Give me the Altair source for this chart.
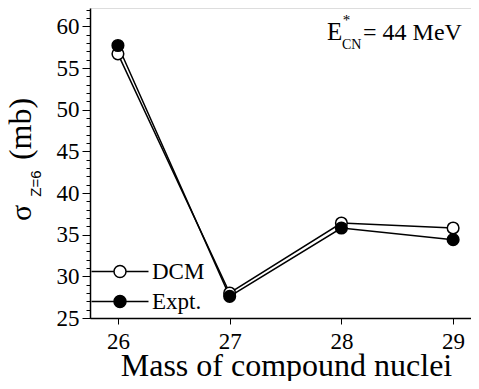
import altair as alt
import pandas as pd

mass = [26, 27, 28, 29]
dcm = [56.7, 28.0, 36.4, 35.8]
expt = [57.7, 27.6, 35.8, 34.4]
series_names = ["DCM", "Expt."]
x_ticks = [26, 27, 28, 29]
y_ticks = [25, 30, 35, 40, 45, 50, 55, 60]
y_minor = list(range(25, 63))

rows = []
for m, v in zip(mass, dcm):
    rows.append({"mass": m, "sigma": v, "series": "DCM"})
for m, v in zip(mass, expt):
    rows.append({"mass": m, "sigma": v, "series": "Expt."})
df = pd.DataFrame(rows)

FONT = "Liberation Serif"
xscale = alt.Scale(domain=[25.75, 29.16], nice=False, zero=False)
yscale = alt.Scale(domain=[25, 62.2], nice=False, zero=False)

legend_path = ("M-2.375,0H-0.5M0.5,0H2.375"
               "M-0.5,0A0.5,0.5 0 1,1 0.5,0A0.5,0.5 0 1,1 -0.5,0Z")

x_enc = alt.X("mass:Q", scale=xscale,
              axis=alt.Axis(values=x_ticks, format="d", title="Mass of compound nuclei",
                            titleFontSize=32, titleFont=FONT, titleFontWeight="normal",
                            titleColor="black", titleY=57, titleX=196,
                            titleBaseline="alphabetic",
                            labelFontSize=23, labelFont=FONT, labelColor="black",
                            tickSize=6, labelPadding=6, grid=False,
                            domainColor="black", tickColor="black", domainWidth=1.5,
                            labelFlush=False))
y_enc = alt.Y("sigma:Q", scale=yscale,
              axis=alt.Axis(values=y_ticks, title=None, orient="left",
                            labelFontSize=23, labelFont=FONT, labelColor="black",
                            tickSize=8, labelPadding=3, grid=False,
                            domainColor="black", tickColor="black", domainWidth=1.5,
                            labelFlush=False))
y_minor_enc = alt.Y("sigma:Q", scale=yscale,
                    axis=alt.Axis(values=y_minor, title=None, orient="left",
                                  labels=False, tickSize=4, grid=False, domain=False,
                                  tickColor="black"))

lines = alt.Chart(df).mark_line(color="black", strokeWidth=1.5).encode(
    x=x_enc, y=y_enc, detail="series:N")

points = alt.Chart(df).mark_point(shape="circle", filled=True, stroke="black",
                                  strokeWidth=1.5, opacity=1, size=135).encode(
    x=alt.X("mass:Q", scale=xscale),
    y=y_minor_enc,
    fill=alt.Fill("series:N",
                  scale=alt.Scale(domain=series_names, range=["white", "black"]),
                  legend=alt.Legend(orient="none", legendX=17, legendY=250.5,
                                    title=None, symbolType=legend_path,
                                    symbolSize=576, symbolStrokeColor="black",
                                    symbolStrokeWidth=1.5, symbolOpacity=1,
                                    labelFont=FONT, labelFontSize=23,
                                    labelColor="black", labelOffset=19,
                                    rowPadding=5, padding=0)),
    order=alt.Order("series:N"))

def txt(s, x, y, size, font=FONT, angle=0, align="left"):
    return alt.Chart(alt.Data(values=[{}])).mark_text(
        text=s, font=font, fontSize=size, angle=angle, align=align,
        baseline="alphabetic", color="black").encode(
        x=alt.value(x), y=alt.value(y))

ann = [
    txt("E", 237, 32, 25),
    txt("*", 256.5, 17, 15, align="center"),
    txt("CN", 252, 41, 14),
    txt("= 44 MeV", 273, 32, 24),
    txt("\u03c3", -59, 205, 30, angle=270, align="center"),
    txt("Z=6", -49, 175.5, 15, font="Liberation Sans", angle=270, align="center"),
    txt("(mb)", -59, 121, 32, angle=270, align="center"),
]

chart = alt.layer(lines, points, *ann).resolve_axis(y="independent").properties(
    width=381, height=310,
    padding={"left": 82, "top": 0, "right": 0, "bottom": 63},
    autosize=alt.AutoSizeParams(type="none"),
).configure_view(stroke="black", strokeWidth=1.5).configure(font=FONT)

chart.save("out.html", embed_options={"renderer": "svg", "actions": False})
